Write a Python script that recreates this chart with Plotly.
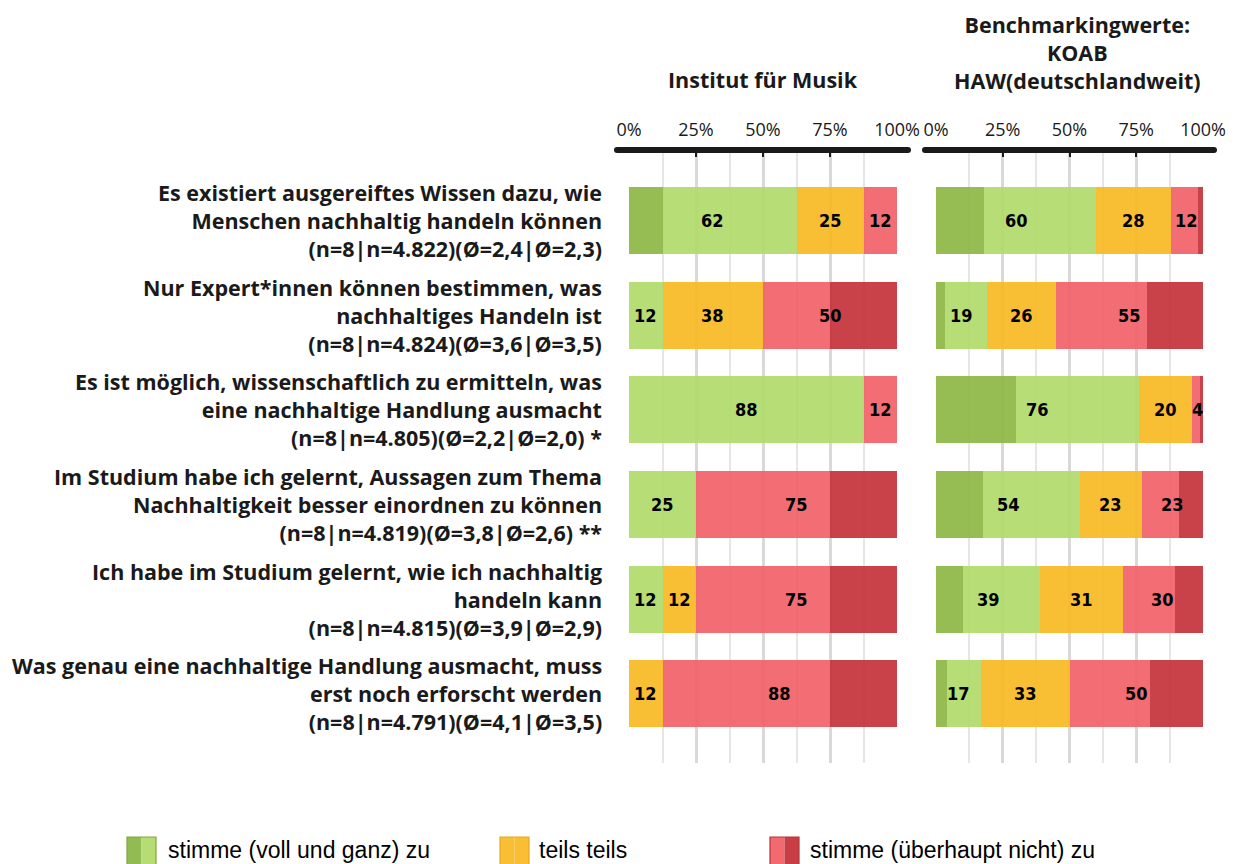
import plotly.graph_objects as go

# ---------------- data ----------------
categories = [
    "Es existiert ausgereiftes Wissen dazu, wie<br>Menschen nachhaltig handeln können<br>(n=8|n=4.822)(Ø=2,4|Ø=2,3)",
    "Nur Expert*innen können bestimmen, was<br>nachhaltiges Handeln ist<br>(n=8|n=4.824)(Ø=3,6|Ø=3,5)",
    "Es ist möglich, wissenschaftlich zu ermitteln, was<br>eine nachhaltige Handlung ausmacht<br>(n=8|n=4.805)(Ø=2,2|Ø=2,0) *",
    "Im Studium habe ich gelernt, Aussagen zum Thema<br>Nachhaltigkeit besser einordnen zu können<br>(n=8|n=4.819)(Ø=3,8|Ø=2,6) **",
    "Ich habe im Studium gelernt, wie ich nachhaltig<br>handeln kann<br>(n=8|n=4.815)(Ø=3,9|Ø=2,9)",
    "Was genau eine nachhaltige Handlung ausmacht, muss<br>erst noch erforscht werden<br>(n=8|n=4.791)(Ø=4,1|Ø=3,5)",
]

panel_titles = ["Institut für Musik", "Benchmarkingwerte:<br>KOAB<br>HAW(deutschlandweit)"]

# Institut für Musik (n=8)
inst_voll = [12.5, 0, 0, 0, 0, 0]
inst_eher = [50, 12.5, 87.5, 25, 12.5, 0]
inst_teils = [25, 37.5, 0, 0, 12.5, 12.5]
inst_eher_nicht = [12.5, 25, 12.5, 50, 50, 62.5]
inst_nicht = [0, 25, 0, 25, 25, 25]

# Benchmark KOAB HAW
bench_voll = [18, 3.5, 30, 17.5, 10, 4]
bench_eher = [42, 15.5, 46, 36.5, 29, 13]
bench_teils = [28, 26, 20, 23, 31, 33]
bench_eher_nicht = [10, 34, 3, 14, 19.5, 30]
bench_nicht = [2, 21, 1, 9, 10.5, 20]

tick_vals = [0, 25, 50, 75, 100]
tick_text = ["0%", "25%", "50%", "75%", "100%"]

legend_labels = ["stimme (voll und ganz) zu", "teils teils", "stimme (überhaupt nicht) zu"]

# ---------------- style ----------------
colors = ["rgba(140,183,69,0.92)", "rgba(176,218,106,0.92)", "rgba(249,186,35,0.92)",
          "rgba(242,98,104,0.92)", "rgba(198,50,57,0.92)"]
solid = ["#92BB53", "#B5DC75", "#F9BE33", "#F26A70", "#C93E44"]
borders = ["#7FA83F", "#E8A81C", "#B8323A"]

W, H = 1246, 864
plot_top, plot_bot = 150, 763
LABEL_FONT = "Open Sans, Noto Sans, Lato"


def py(pix):
    return (plot_bot - pix) / (plot_bot - plot_top)


def px(pix):
    return pix / W


fig = go.Figure()
ypos = list(range(len(categories)))
panels = [
    ("x", [inst_voll, inst_eher, inst_teils, inst_eher_nicht, inst_nicht]),
    ("x2", [bench_voll, bench_eher, bench_teils, bench_eher_nicht, bench_nicht]),
]

annotations = []
for xa, series in panels:
    for k, s in enumerate(series):
        fig.add_trace(go.Bar(
            x=s, y=ypos, orientation="h", xaxis=xa, yaxis="y",
            width=0.707, marker=dict(color=colors[k], line=dict(width=0)),
            showlegend=False, hoverinfo="skip",
        ))
    # group labels: agree / neutral / disagree
    for i in ypos:
        groups = [series[0][i] + series[1][i], series[2][i], series[3][i] + series[4][i]]
        start = 0
        for g in groups:
            if g > 0:
                annotations.append(dict(
                    x=start + g / 2, y=i, xref=xa, yref="y", text="<b>%d</b>" % round(g),
                    showarrow=False,
                    font=dict(family="Liberation Sans Narrow, Arial Narrow, DejaVu Sans Condensed, Open Sans",
                              size=18, color="black"),
                ))
            start += g

# category labels
for i, c in enumerate(categories):
    annotations.append(dict(
        x=px(604), y=i, xref="paper", yref="y", text="<b>%s</b>" % c, showarrow=False,
        xanchor="right", yanchor="middle", align="right",
        font=dict(family=LABEL_FONT, size=21.5, color="#1a1a1a"),
    ))

# panel titles
annotations.append(dict(x=px(763), y=py(79), xref="paper", yref="paper", text="<b>%s</b>" % panel_titles[0],
                        showarrow=False, xanchor="center", yanchor="middle",
                        font=dict(family=LABEL_FONT, size=21.5, color="#1a1a1a")))
annotations.append(dict(x=px(1077), y=py(52), xref="paper", yref="paper", text="<b>%s</b>" % panel_titles[1],
                        showarrow=False, xanchor="center", yanchor="middle", align="center",
                        font=dict(family=LABEL_FONT, size=21.5, color="#1a1a1a")))

shapes = []
# thick axis lines with rounded ends
for x0, x1 in [(617, 908), (925, 1214)]:
    shapes.append(dict(type="line", xref="paper", yref="paper", x0=px(x0), x1=px(x1), y0=1, y1=1,
                       line=dict(color="#1a1a1a", width=6), layer="above"))
    for xe in (x0, x1):
        shapes.append(dict(type="circle", xref="paper", yref="paper", xsizemode="pixel", ysizemode="pixel",
                           xanchor=px(xe), yanchor=1, x0=-3, x1=3, y0=-3, y1=3,
                           fillcolor="#1a1a1a", line=dict(width=0), layer="above"))

# legend (custom two-tone swatches)
legend_items = [(127, 156, 166, [solid[0], solid[1]], borders[0]),
                (500, 529, 537, [solid[2], solid[2]], borders[1]),
                (770, 799, 808, [solid[3], solid[4]], borders[2])]
for (sx0, sx1, tx, cols, bc), lab in zip(legend_items, legend_labels):
    mid = (sx0 + sx1) / 2
    shapes.append(dict(type="rect", xref="paper", yref="paper", x0=px(sx0), x1=px(mid), y0=py(837), y1=py(868),
                       fillcolor=cols[0], line=dict(width=0)))
    shapes.append(dict(type="rect", xref="paper", yref="paper", x0=px(mid), x1=px(sx1), y0=py(837), y1=py(868),
                       fillcolor=cols[1], line=dict(width=0)))
    shapes.append(dict(type="rect", xref="paper", yref="paper", x0=px(sx0), x1=px(sx1), y0=py(837), y1=py(868),
                       fillcolor="rgba(0,0,0,0)", line=dict(width=1.2, color=bc)))
    annotations.append(dict(x=px(tx), y=py(850), xref="paper", yref="paper", text=lab, showarrow=False,
                            xanchor="left", yanchor="middle",
                            font=dict(family="Liberation Sans, Arial", size=23, color="black")))

axis_common = dict(
    range=[0, 100], side="top", tickvals=tick_vals, ticktext=tick_text,
    showgrid=True, gridcolor="#d9d9d9", gridwidth=2.5,
    minor=dict(dtick=12.5, tick0=0, showgrid=True, gridcolor="#e6e6e6", gridwidth=1.5),
    ticks="inside", ticklen=7, tickwidth=2, tickcolor="#1a1a1a",
    tickfont=dict(family="Open Sans, Liberation Sans", size=18, color="#1a1a1a"),
    ticklabelstandoff=9, zeroline=False, showline=False, fixedrange=True, automargin=False,
)

fig.update_layout(
    width=W, height=H, barmode="stack", plot_bgcolor="white", paper_bgcolor="white",
    margin=dict(l=0, r=0, t=plot_top, b=H - plot_bot, autoexpand=False),
    xaxis=dict(domain=[px(629), px(897)], anchor="y", **axis_common),
    xaxis2=dict(domain=[px(936), px(1203)], anchor="y", **axis_common),
    yaxis=dict(range=[5.729, -0.744], showticklabels=False, showgrid=False, zeroline=False,
               fixedrange=True, automargin=False),
    annotations=annotations, shapes=shapes, bargap=0, showlegend=False,
)

fig.write_html("out.html", config={"displayModeBar": False},
               post_script="document.body.style.margin='0';document.body.style.overflow='hidden';")
